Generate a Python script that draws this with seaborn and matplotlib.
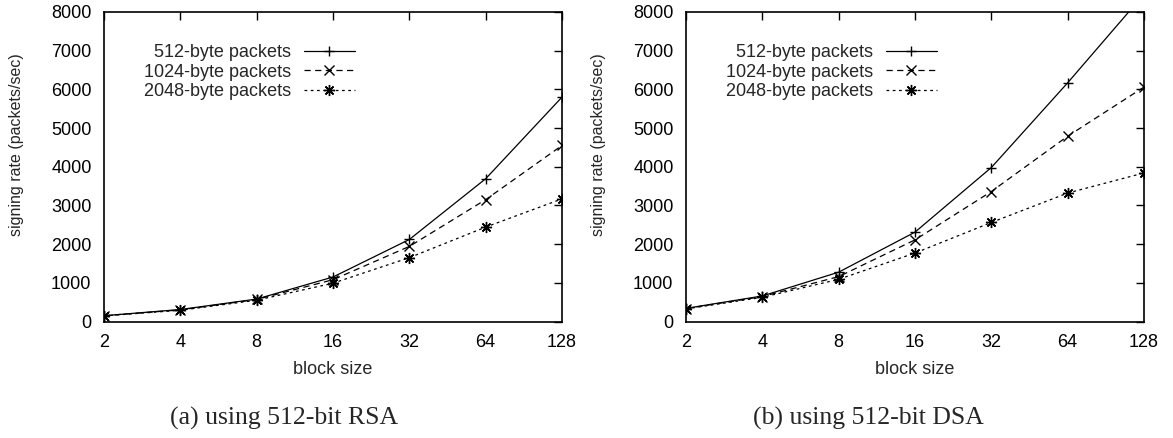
import numpy as np
import pandas as pd
import matplotlib
matplotlib.use("Agg")
import matplotlib.pyplot as plt
import seaborn as sns

# block sizes on the x axis
block_sizes = [2, 4, 8, 16, 32, 64, 128]
series_names = ["512-byte packets", "1024-byte packets", "2048-byte packets"]

# signing rate (packets/sec)
rsa_512 = [150, 310, 580, 1150, 2120, 3690, 5800]
rsa_1024 = [150, 300, 570, 1080, 1940, 3150, 4550]
rsa_2048 = [145, 290, 550, 990, 1650, 2440, 3170]

dsa_512 = [340, 660, 1275, 2310, 3980, 6170, 8460]
dsa_1024 = [335, 645, 1160, 2110, 3360, 4790, 6060]
dsa_2048 = [325, 625, 1090, 1770, 2560, 3320, 3840]

captions = ["(a) using 512-bit RSA", "(b) using 512-bit DSA"]


def make_frame(values):
    rows = []
    for name, vals in zip(series_names, values):
        for b, v in zip(block_sizes, vals):
            rows.append({"block": b, "rate": v, "packets": name})
    return pd.DataFrame(rows)


sns.set_style("white")
plt.rcParams["font.family"] = ["Liberation Sans", "DejaVu Sans"]

W, H = 1173, 438
fig = plt.figure(figsize=(W / 100, H / 100), dpi=100)
ax_left = fig.add_axes([104 / W, 116.5 / H, 458 / W, 309.5 / H])
ax_right = fig.add_axes([686 / W, 116.5 / H, 458 / W, 309.5 / H])

markers = {"512-byte packets": "+", "1024-byte packets": "x",
           "2048-byte packets": (8, 2, 0)}
msizes = {"512-byte packets": 7, "1024-byte packets": 6.5,
          "2048-byte packets": 8}
dashes = {"512-byte packets": (None, None), "1024-byte packets": (5, 3.5),
          "2048-byte packets": (2.2, 2.8)}

fs = 13
panels = [(ax_left, [rsa_512, rsa_1024, rsa_2048], captions[0], 284),
          (ax_right, [dsa_512, dsa_1024, dsa_2048], captions[1], 868)]

for ax, vals, cap, cap_x in panels:
    df = make_frame(vals)
    for name in series_names:
        sub = df[df["packets"] == name]
        sns.lineplot(data=sub, x="block", y="rate", ax=ax, color="black",
                     marker=markers[name], markersize=msizes[name],
                     markeredgewidth=1.0, markeredgecolor="black",
                     dashes=dashes[name], linewidth=0.9, label=name)
    ax.set_xscale("log", base=2)
    ax.set_xlim(2, 128)
    ax.set_ylim(0, 8000)
    ax.set_xticks(block_sizes)
    ax.set_xticklabels([str(b) for b in block_sizes])
    ax.minorticks_off()
    ax.set_yticks(np.arange(0, 8001, 1000))
    ax.tick_params(direction="in", length=6, width=1, top=True, right=True,
                   labelsize=fs, colors="black")
    ax.tick_params(axis="y", pad=9)
    ax.tick_params(axis="x", pad=9)
    for s in ax.spines.values():
        s.set_color("black")
        s.set_linewidth(1.2)
    ax.set_xlabel("block size", fontsize=fs)
    ax.xaxis.set_label_coords(0.5, -0.128)
    ax.set_ylabel("")
    ax.text(-0.19, 0.57, "signing rate (packets/sec)", transform=ax.transAxes,
            rotation=90, ha="center", va="center", fontsize=11.5)
    ax.legend(loc="upper right", bbox_to_anchor=(0.547, 0.895), markerfirst=False,
              frameon=False, fontsize=fs, handlelength=2.8, numpoints=1,
              labelspacing=0.12, handletextpad=0.7, borderaxespad=0.0,
              borderpad=0.0)
    fig.text(cap_x / W, 13 / H, cap, ha="center", va="baseline",
             fontsize=18.5, family=["Liberation Serif", "DejaVu Serif"])

fig.savefig("out.png", dpi=100)
